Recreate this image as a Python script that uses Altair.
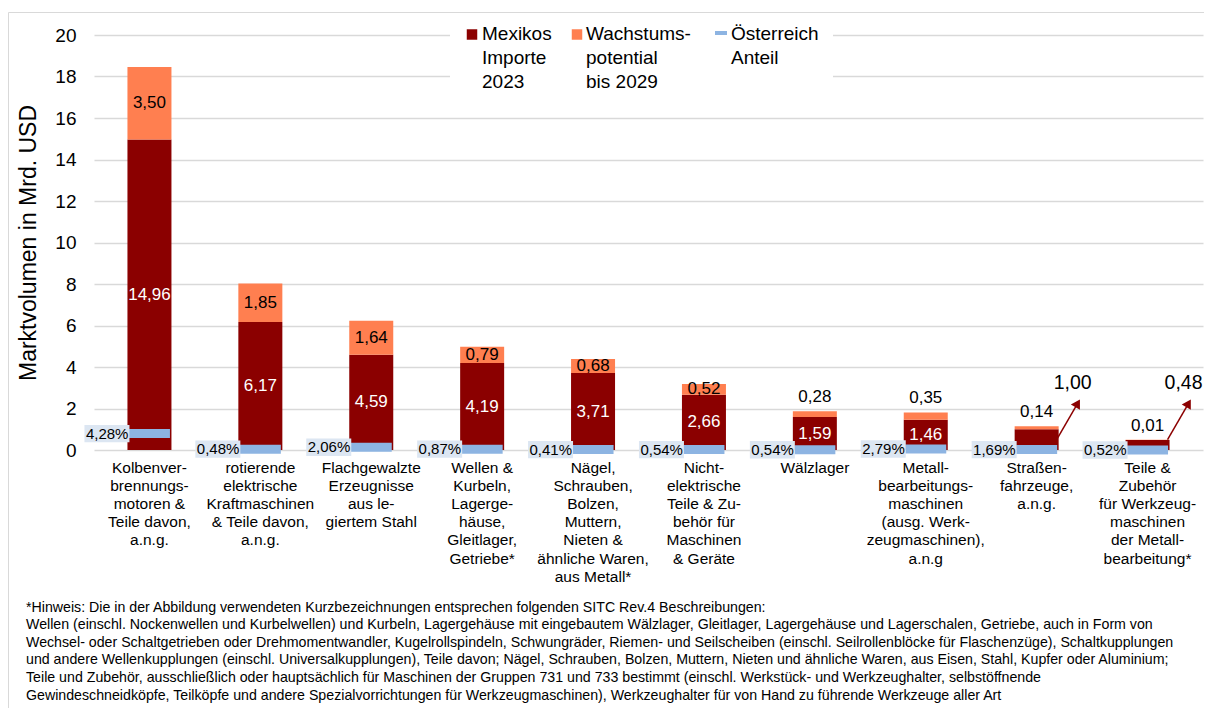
import altair as alt
import pandas as pd

# ---------------- data ----------------
categories = [
    "Kolbenver-|brennungs-|motoren &|Teile davon,|a.n.g.",
    "rotierende|elektrische|Kraftmaschinen|& Teile davon,|a.n.g.",
    "Flachgewalzte|Erzeugnisse|aus le-|giertem Stahl",
    "Wellen &|Kurbeln,|Lagerge-|häuse,|Gleitlager,|Getriebe*",
    "Nägel,|Schrauben,|Bolzen,|Muttern,|Nieten &|ähnliche Waren,|aus Metall*",
    "Nicht-|elektrische|Teile & Zu-|behör für|Maschinen|& Geräte",
    "Wälzlager",
    "Metall-|bearbeitungs-|maschinen|(ausg. Werk-|zeugmaschinen),|a.n.g",
    "Straßen-|fahrzeuge,|a.n.g.",
    "Teile &|Zubehör|für Werkzeug-|maschinen|der Metall-|bearbeitung*",
]
imports_2023 = [14.96, 6.17, 4.59, 4.19, 3.71, 2.66, 1.59, 1.46, 1.00, 0.48]
growth_2029 = [3.50, 1.85, 1.64, 0.79, 0.68, 0.52, 0.28, 0.35, 0.14, 0.01]
austria_share_pct = [4.28, 0.48, 2.06, 0.87, 0.41, 0.54, 0.54, 2.79, 1.69, 0.52]
austria_marker = [0.79, 0.04, 0.13, 0.04, 0.02, 0.02, 0.01, 0.05, 0.02, 0.00]
y_ticks = [0, 2, 4, 6, 8, 10, 12, 14, 16, 18, 20]
legend_labels = ["Mexikos\nImporte\n2023", "Wachstums-\npotential\nbis 2029", "Österreich\nAnteil"]
y_title = "Marktvolumen in Mrd. USD"
footnote_lines = [
    "*Hinweis: Die in der Abbildung verwendeten Kurzbezeichnungen entsprechen folgenden SITC Rev.4 Beschreibungen:",
    "Wellen (einschl. Nockenwellen und Kurbelwellen) und Kurbeln, Lagergehäuse mit eingebautem Wälzlager, Gleitlager, Lagergehäuse und Lagerschalen, Getriebe, auch in Form von",
    "Wechsel- oder Schaltgetrieben oder Drehmomentwandler, Kugelrollspindeln, Schwungräder, Riemen- und Seilscheiben (einschl. Seilrollenblöcke für Flaschenzüge), Schaltkupplungen",
    "und andere Wellenkupplungen (einschl. Universalkupplungen), Teile davon; Nägel, Schrauben, Bolzen, Muttern, Nieten und ähnliche Waren, aus Eisen, Stahl, Kupfer oder Aluminium;",
    "Teile und Zubehör, ausschließlich oder hauptsächlich für Maschinen der Gruppen 731 und 733 bestimmt (einschl. Werkstück- und Werkzeughalter, selbstöffnende",
    "Gewindeschneidköpfe, Teilköpfe und andere Spezialvorrichtungen für Werkzeugmaschinen), Werkzeughalter für von Hand zu führende Werkzeuge aller Art",
]

DARK_RED = "#8B0000"
ORANGE = "#FF7F50"
BLUE = "#8DB4E2"
BOX = "#DCE6F2"
FONT = "Liberation Sans"


def de(v, pct=False):
    s = f"{v:.2f}".replace(".", ",")
    return s + "%" if pct else s


df = pd.DataFrame({
    "cat": categories,
    "imp": imports_2023,
    "gro": growth_2029,
    "aut": austria_marker,
    "imp_lbl": [de(v) for v in imports_2023],
    "gro_lbl": [de(v) for v in growth_2029],
    "pct_lbl": [de(v, True) for v in austria_share_pct],
})
df["top"] = df["imp"] + df["gro"]

y_scale = alt.Scale(domain=[0, 20], nice=False, zero=True)
y_axis = alt.Axis(
    values=y_ticks, title=y_title, titleFontSize=23, titleFontWeight="normal",
    titleColor="black", titlePadding=14, labelFontSize=19, labelColor="black",
    labelPadding=18, domain=False, ticks=False, tickSize=0,
    gridColor="#d9d9d9", gridWidth=1.5,
)
x_enc = alt.X(
    "cat:N", sort=categories, title=None,
    scale=alt.Scale(paddingInner=0, paddingOuter=0),
    axis=alt.Axis(
        labelExpr="split(datum.label, '|')", labelAngle=0, labelFontSize=15.5,
        labelLineHeight=18.2, labelColor="black", labelPadding=10, labelLimit=300,
        labelOverlap=False, labelBaseline="top", domain=False, ticks=False,
        tickSize=0, grid=False,
    ),
)

base = alt.Chart(df)

imp_bar = base.mark_bar(size=44, color=DARK_RED).encode(
    x=x_enc, y=alt.Y("imp:Q", scale=y_scale, axis=y_axis)
)
gro_bar = base.mark_bar(size=44, color=ORANGE).encode(
    x=x_enc, y=alt.Y("imp:Q", scale=y_scale, axis=y_axis), y2="top:Q"
)
aut_tick = base.mark_tick(size=41, thickness=9, color=BLUE, opacity=1).encode(
    x=x_enc, y=alt.Y("aut:Q", scale=y_scale)
)
lbl_box = base.mark_point(
    shape="M-1,-0.386L1,-0.386L1,0.386L-1,0.386Z", size=2025, filled=True,
    color=BOX, opacity=1, strokeWidth=0, xOffset=-42.5,
).encode(x=x_enc, y=alt.Y("aut:Q", scale=y_scale))
pct_txt = base.mark_text(
    align="right", baseline="middle", xOffset=-21, fontSize=15, color="black"
).encode(x=x_enc, y=alt.Y("aut:Q", scale=y_scale), text="pct_lbl:N")

imp_txt = base.transform_filter("datum.imp >= 1.2").transform_calculate(
    ym="datum.imp / 2"
).mark_text(baseline="middle", fontSize=17, color="white").encode(
    x=x_enc, y=alt.Y("ym:Q", scale=y_scale), text="imp_lbl:N"
)
gro_in = base.transform_filter("datum.gro >= 0.5").transform_calculate(
    ym="datum.imp + datum.gro / 2"
).mark_text(baseline="middle", fontSize=17, color="black").encode(
    x=x_enc, y=alt.Y("ym:Q", scale=y_scale), text="gro_lbl:N"
)
gro_out = base.transform_filter("datum.gro < 0.5").mark_text(
    baseline="middle", fontSize=17, color="black", dy=-14
).encode(x=x_enc, y=alt.Y("top:Q", scale=y_scale), text="gro_lbl:N")

callout = base.transform_filter("datum.imp < 1.2").transform_calculate(
    a0="0.5", a1="2.25", ly="3.25"
)
arrow = callout.mark_rule(color=DARK_RED, strokeWidth=1.5, xOffset=20, x2Offset=41).encode(
    x=x_enc, x2="cat:N", y=alt.Y("a0:Q", scale=y_scale), y2="a1:Q"
)
head = callout.mark_point(
    shape="triangle-up", filled=True, size=110, angle=30, color=DARK_RED,
    opacity=1, xOffset=41,
).encode(x=x_enc, y=alt.Y("a1:Q", scale=y_scale))
call_txt = callout.mark_text(baseline="middle", fontSize=19.5, color="black", xOffset=36).encode(
    x=x_enc, y=alt.Y("ly:Q", scale=y_scale), text="imp_lbl:N"
)

one = alt.Data(values=[{"a": 1}])
frame = alt.Chart(one).mark_rect(fillOpacity=0, stroke="#d9d9d9", strokeWidth=1).encode(
    x=alt.value(-85.5), x2=alt.value(1400), y=alt.value(-22.5), y2=alt.value(1000)
)
leg_bg = alt.Chart(one).mark_rect(color="white").encode(
    x=alt.value(356), x2=alt.value(739), y=alt.value(-20), y2=alt.value(60)
)
leg_sq1 = alt.Chart(one).mark_square(size=110, color=DARK_RED, opacity=1).encode(
    x=alt.value(378), y=alt.value(-0.5)
)
leg_sq2 = alt.Chart(one).mark_square(size=110, color=ORANGE, opacity=1).encode(
    x=alt.value(483), y=alt.value(-0.5)
)
leg_ln = alt.Chart(one).mark_rule(color=BLUE, strokeWidth=4).encode(
    x=alt.value(621), x2=alt.value(633), y=alt.value(-2)
)
leg_txt = []
for lbl, xp in zip(legend_labels, [388, 492, 637]):
    leg_txt.append(
        alt.Chart(one).mark_text(
            align="left", baseline="alphabetic", fontSize=19, lineHeight=24,
            lineBreak="\n", color="black",
        ).encode(x=alt.value(xp), y=alt.value(5), text=alt.value(lbl))
    )

foot = alt.Chart(one).mark_text(
    align="left", baseline="alphabetic", fontSize=14.2, lineHeight=17.6,
    lineBreak="\n", color="black",
).encode(x=alt.value(-68), y=alt.value(576.5), text=alt.value("\n".join(footnote_lines)))

chart = alt.layer(
    frame, imp_bar, gro_bar, aut_tick, lbl_box, pct_txt, imp_txt, gro_in, gro_out,
    arrow, head, call_txt, leg_bg, leg_sq1, leg_sq2, leg_ln, *leg_txt, foot,
).properties(
    width=1109, height=415,
    padding={"left": 86, "top": 27, "right": 1, "bottom": 258},
    autosize=alt.AutoSizeParams(type="none"),
).configure(font=FONT).configure_view(stroke=None)

chart.save("out.html", embed_options={"renderer": "svg", "actions": False})
